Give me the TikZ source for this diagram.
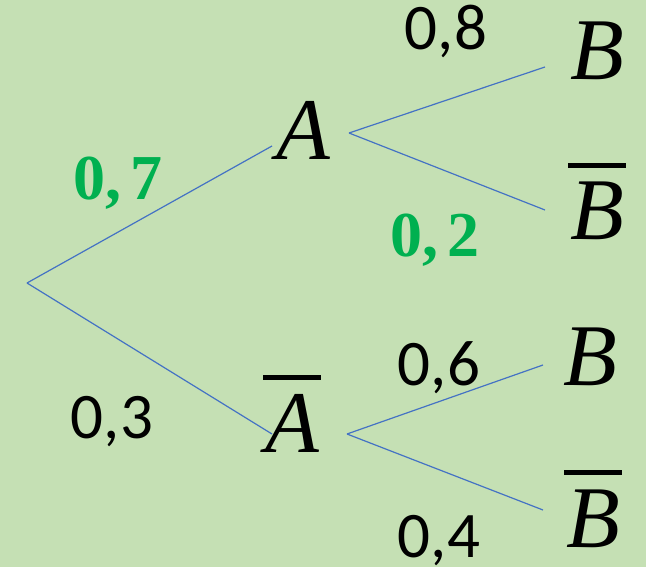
\documentclass[tikz,border=0pt]{standalone}
\usepackage{fontspec}
\setmainfont{Carlito}
\newfontfamily\lserif{Liberation Serif}
\definecolor{bg}{HTML}{C5E0B4}
\definecolor{edge}{HTML}{4472C4}
\definecolor{pgreen}{HTML}{00B050}
\tikzset{
  edgeline/.style={draw=edge, line width=1.2pt},
  prob/.style={anchor=base, inner sep=0pt, font=\fontsize{65}{70}\selectfont},
  gprob/.style={anchor=base, inner sep=0pt, text=pgreen, font=\lserif\bfseries\fontsize{64}{70}\selectfont},
  event/.style={anchor=base, inner sep=0pt, font=\lserif\itshape\fontsize{88}{95}\selectfont},
}
\newcommand{\barover}[1]{\fill ([xshift=-29pt,yshift=72pt]#1.base) rectangle ([xshift=29pt,yshift=77pt]#1.base);}
\begin{document}
\begin{tikzpicture}[x=1pt,y=-1pt]
\fill[bg] (0,0) rectangle (646,567);
\useasboundingbox (0,0) rectangle (646,567);
% coordinates of branch ends
\coordinate (root) at (27,283);
\coordinate (aIn) at (272,146);
\coordinate (abIn) at (272,434);
\coordinate (aOut) at (349,133);
\coordinate (abOut) at (347,434);
\coordinate (b1In) at (545,67);
\coordinate (b2In) at (545,210);
\coordinate (b3In) at (543,365);
\coordinate (b4In) at (543,510);
% event nodes
\node[event] (A) at (303,160) {A};
\node[event] (Ab) at (292,452) {A};
\node[event] (B1) at (597,80) {B};
\node[event] (B2) at (597,240) {B};
\node[event] (B3) at (590,385) {B};
\node[event] (B4) at (593,547) {B};
\barover{Ab}
\barover{B2}
\barover{B4}
% branches
\draw[edgeline] (root) -- (aIn);
\draw[edgeline] (root) -- (abIn);
\draw[edgeline] (aOut) -- (b1In);
\draw[edgeline] (aOut) -- (b2In);
\draw[edgeline] (abOut) -- (b3In);
\draw[edgeline] (abOut) -- (b4In);
% probabilities
\node[gprob] (p07) at (118,200) {0,\kern9pt 7};
\node[prob] (p03) at (112,438) {0,3};
\node[prob] (p08) at (446,50) {0,8};
\node[gprob] (p02) at (435,257) {0,\kern9pt 2};
\node[prob] (p06) at (439,385) {0,6};
\node[prob] (p04) at (439,557) {0,4};
\end{tikzpicture}
\end{document}
